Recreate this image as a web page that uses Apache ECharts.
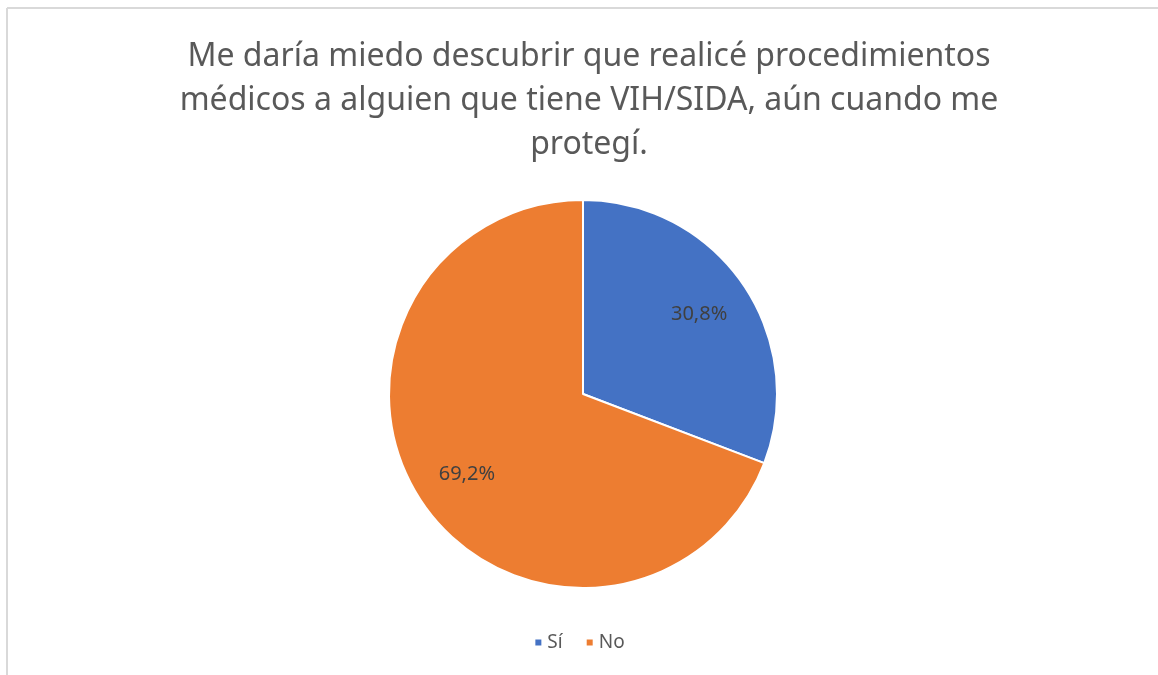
<!DOCTYPE html>
<html>
<head>
<meta charset="utf-8">
<script src="https://cdn.jsdelivr.net/npm/echarts@6/dist/echarts.min.js"></script>
<style>
  html, body { margin: 0; padding: 0; background: #fff; }
  #chart { width: 1158px; height: 675px; }
</style>
</head>
<body>
<div id="chart"></div>
<script>
const titleText = 'Me daría miedo descubrir que realicé procedimientos\nmédicos a alguien que tiene VIH/SIDA, aún cuando me\nprotegí.'
const categories = ['Sí', 'No']
const values = [30.8, 69.2]
const colors = ['#4472C4', '#ED7D31']

const pieData = categories.map((name, i) => ({
  name,
  value: values[i],
  itemStyle: { color: colors[i] }
}))

const fmt = (p) => p.value.toFixed(1).replace('.', ',') + '%'

const chart = echarts.init(document.getElementById('chart'))

chart.setOption({
  backgroundColor: '#fff',
  title: {
    text: titleText,
    left: 584,
    top: 30,
    textAlign: 'center',
    textStyle: {
      fontFamily: 'Noto Sans',
      fontSize: 32,
      fontWeight: 'normal',
      color: '#595959',
      lineHeight: 44
    }
  },
  legend: {
    data: categories,
    left: 'center',
    top: 628,
    icon: 'rect',
    itemWidth: 8,
    itemHeight: 8,
    itemGap: 22,
    textStyle: { fontFamily: 'Noto Sans', fontSize: 19, color: '#595959' }
  },
  graphic: [
    { type: 'line', shape: { x1: 7, y1: 8, x2: 1158, y2: 8 }, style: { stroke: '#d9d9d9', lineWidth: 2 } },
    { type: 'line', shape: { x1: 7, y1: 8, x2: 7, y2: 675 }, style: { stroke: '#d9d9d9', lineWidth: 2 } }
  ],
  series: [
    {
      type: 'pie',
      center: [583, 394],
      radius: 194,
      startAngle: 90,
      clockwise: true,
      silent: true,
      label: { show: false },
      labelLine: { show: false },
      itemStyle: { borderColor: '#fff', borderWidth: 2 },
      data: pieData
    },
    {
      // transparent ring, only there to put the labels further out than mid-radius
      type: 'pie',
      center: [583, 394],
      radius: [82, 194],
      startAngle: 90,
      clockwise: true,
      silent: true,
      itemStyle: { color: 'rgba(0,0,0,0)', borderWidth: 0 },
      label: {
        show: true,
        position: 'inside',
        formatter: fmt,
        fontFamily: 'Noto Sans',
        fontSize: 20,
        color: '#404040'
      },
      labelLine: { show: false },
      data: categories.map((name, i) => ({ name, value: values[i] }))
    }
  ]
})
</script>
</body>
</html>
